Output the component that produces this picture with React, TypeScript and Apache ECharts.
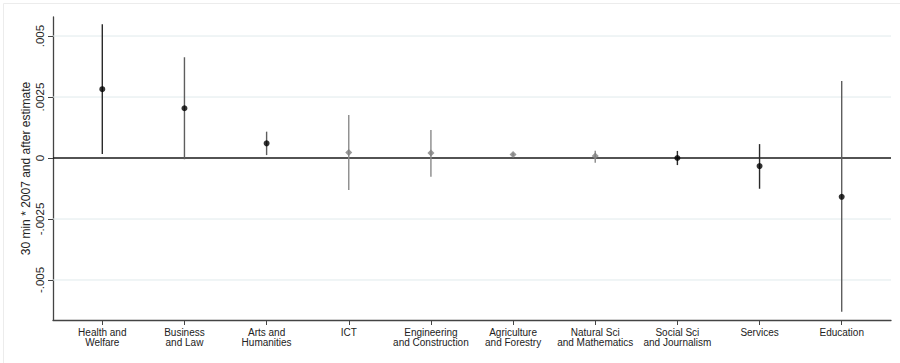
import React, { useEffect, useRef } from "react";
import * as echarts from "echarts";

const categories = [
  "Health and\nWelfare",
  "Business\nand Law",
  "Arts and\nHumanities",
  "ICT",
  "Engineering\nand Construction",
  "Agriculture\nand Forestry",
  "Natural Sci\nand Mathematics",
  "Social Sci\nand Journalism",
  "Services",
  "Education",
];
const estimates = [0.00282, 0.00204, 0.0006, 0.00023, 0.00021, 0.00014, 0.00008, 0.0, -0.00033, -0.00159];
const lower = [0.00016, -0.00005, 0.00012, -0.00131, -0.00077, 0.00009, -0.00019, -0.00029, -0.00126, -0.0063];
const upper = [0.00548, 0.00413, 0.00108, 0.00176, 0.00115, 0.00019, 0.0003, 0.00029, 0.00057, 0.00316];
// 1 = black marker group, 0 = gray marker group
const group = [1, 1, 1, 0, 0, 0, 0, 1, 1, 1];
const ciColors = ["#2a2a2a", "#5e5e5e", "#5e5e5e", "#8a8a8a", "#8a8a8a", "#8a8a8a", "#8a8a8a", "#2a2a2a", "#2a2a2a", "#5e5e5e"];
const yTicks = [-0.005, -0.0025, 0, 0.0025, 0.005];
const yTickLabels = ["-.005", "-.0025", "0", ".0025", ".005"];
const xMin = -0.6;
const xMax = 9.6;

export default function App() {
  const ref = useRef<HTMLDivElement>(null);
  useEffect(() => {
    if (!ref.current) return;
    const chart = echarts.init(ref.current, null, { renderer: "svg" });
    const idx = categories.map((_, i) => i);
    const font = "Liberation Sans, Arial, sans-serif";
    chart.setOption({
      animation: false,
      backgroundColor: "#ffffff",
      graphic: [
        {
          type: "rect",
          shape: { x: 3.5, y: 3.5, width: 940, height: 420 },
          style: { fill: "none", stroke: "#ececec", lineWidth: 1 },
          z: -10,
        },
      ],
      grid: { left: 53, right: 9, top: 17, bottom: 43 },
      xAxis: {
        type: "value",
        min: xMin,
        max: xMax,
        splitLine: { show: false },
        axisLine: { show: true, onZero: false, lineStyle: { color: "#444", width: 1.3 } },
        axisTick: { show: true, customValues: idx, length: 5, lineStyle: { color: "#444" } },
        axisLabel: {
          customValues: idx,
          formatter: (v: number) => categories[Math.round(v)] ?? "",
          fontSize: 10,
          lineHeight: 10,
          color: "#222",
          fontFamily: font,
          margin: 7,
          align: "center",
        },
      },
      yAxis: {
        type: "value",
        min: -0.00664,
        max: 0.00578,
        name: "30 min * 2007 and after estimate",
        nameLocation: "middle",
        nameGap: 21,
        nameMoveOverlap: false,
        nameTextStyle: { fontSize: 12, color: "#222", fontFamily: font },
        splitLine: { show: false },
        axisLine: { show: true, onZero: false, lineStyle: { color: "#444", width: 1.3 } },
        axisTick: { show: true, customValues: yTicks, length: 5, lineStyle: { color: "#444" } },
        axisLabel: {
          customValues: yTicks,
          rotate: 90,
          formatter: (v: number) => {
            const k = yTicks.findIndex((t) => Math.abs(t - v) < 1e-9);
            return k >= 0 ? yTickLabels[k] : "";
          },
          fontSize: 11.5,
          color: "#222",
          fontFamily: font,
          margin: 7,
        },
      },
      series: [
        {
          type: "custom",
          z: 1,
          silent: true,
          data: yTicks.map((t) => [xMin, t]),
          renderItem: (params: any, api: any) => {
            const t = api.value(1);
            const p1 = api.coord([xMin, t]);
            const p2 = api.coord([xMax, t]);
            const zero = Math.abs(t) < 1e-12;
            return {
              type: "line",
              z2: zero ? 10 : 0,
              shape: { x1: p1[0], y1: p1[1], x2: p2[0], y2: p2[1] },
              style: zero
                ? { stroke: "#1a1a1a", lineWidth: 1.4 }
                : { stroke: "#e0eaec", lineWidth: 1 },
            };
          },
        },
        {
          type: "custom",
          z: 4,
          data: idx.map((i) => [i, lower[i], upper[i]]),
          renderItem: (params: any, api: any) => {
            const i = api.value(0);
            const p1 = api.coord([i, api.value(1)]);
            const p2 = api.coord([i, api.value(2)]);
            return {
              type: "line",
              shape: { x1: p1[0], y1: p1[1], x2: p2[0], y2: p2[1] },
              style: { stroke: ciColors[i], lineWidth: 1.4 },
            };
          },
        },
        {
          type: "scatter",
          z: 5,
          symbol: "circle",
          symbolSize: 6,
          itemStyle: { color: "#000" },
          data: idx.filter((i) => group[i] === 1).map((i) => [i, estimates[i]]),
        },
        {
          type: "scatter",
          z: 5,
          symbol: "diamond",
          symbolSize: 7,
          itemStyle: { color: "#808080" },
          data: idx.filter((i) => group[i] === 0).map((i) => [i, estimates[i]]),
        },
      ],
    });
    return () => chart.dispose();
  }, []);
  return (
    <div
      ref={ref}
      style={{ position: "fixed", left: 0, top: 0, width: 900, height: 363, background: "#fff" }}
    />
  );
}
